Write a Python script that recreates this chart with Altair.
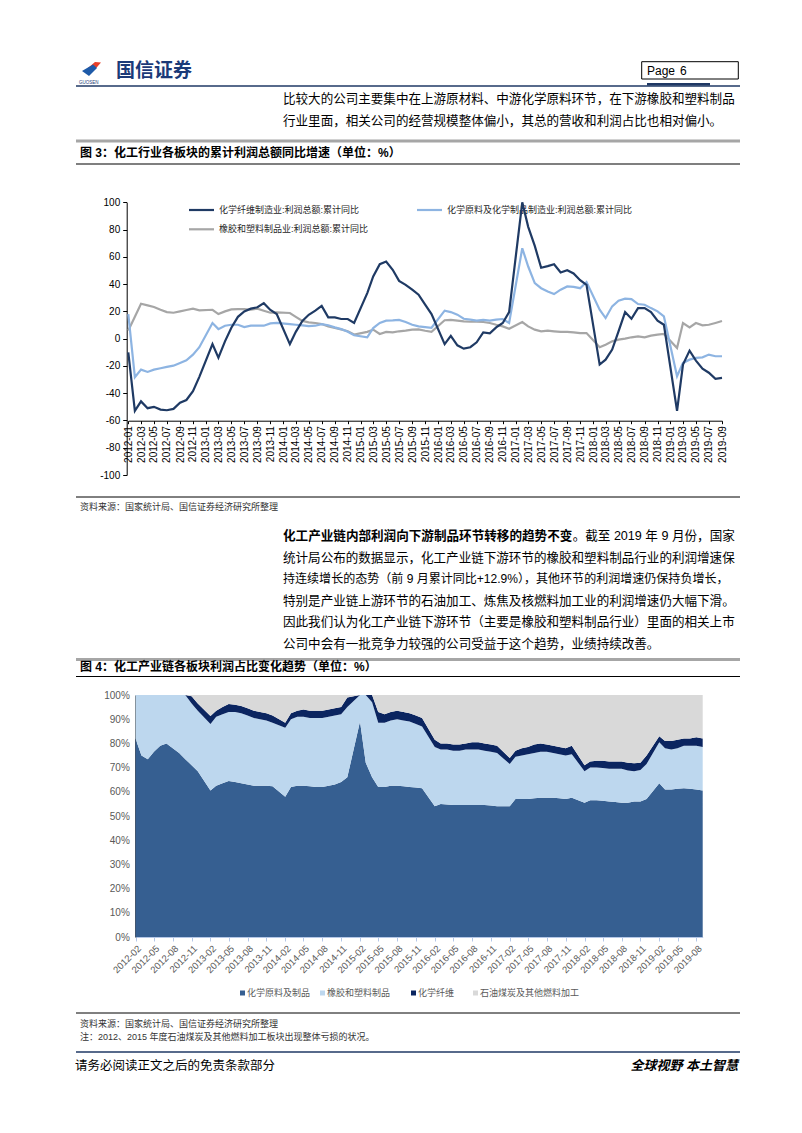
import altair as alt
import pandas as pd

W, H = 786, 1110


def px(v):
    return v - 8


FONT = "Liberation Sans, Noto Sans CJK SC"
BLANK = alt.Data(values=[{}])

# ---------------- Figure 3 data (cumulative YoY %, monthly 2012-01 .. 2019-09; January not published) -------------
months3 = [f"{y}/{m:02d}/01" for y in range(2012, 2020) for m in range(1, 13)][:93]
names3 = ["化学纤维制造业:利润总额:累计同比",
          "化学原料及化学制品制造业:利润总额:累计同比",
          "橡胶和塑料制品业:利润总额:累计同比"]
colors3 = ["#1F3A64", "#8DB4E2", "#A6A6A6"]

fiber_yoy = [
    -10, -53, -46, -51, -50, -52, -52.5, -51.5, -47, -45, -38.5, -28,
    None, -4, -14, -2, 8, 16, 20, 22, 23, 26, 21, 18,
    None, -4, 5, 13, 17.5, 20.5, 24, 15.6, 15.6, 14.4, 14.4, 11.5,
    None, 33.4, 45.6, 54.6, 56.6, 50.5, 42.4, 39.5, 35.9, 32.2, 25, 18,
    None, -4, 2, -4.9, -7.3, -6.3, -2.7, 4.6, 3.9, 8.3, 11.5, 19.5,
    None, 118, 82, 68, 52, 53.2, 54.6, 48.5, 50.2, 47.8, 42.9, 39.5,
    None, -19, -15.4, -8, 5.4, 19.5, 14.6, 22.4, 22.4, 19.5, 13.2, 10.2,
    None, -53, -19, -8.8, -16.1, -22, -25, -29.5, -28.8,
]
chem_yoy = [
    18, -28.3, -22.7, -24.4, -22.7, -21.7, -20.7, -19.8, -17.8, -15.9, -11.7, -6.3,
    None, 11.5, 7, 9.5, 10.2, 10.2, 8.5, 9.5, 9.5, 9.5, 11.2, 11.5,
    None, 10.6, 10.2, 9.8, 9.2, 9.5, 10.7, 9.8, 8.3, 7, 5, 2.5,
    None, 1, 7.8, 11.5, 13.2, 13.4, 13.7, 12.2, 10.2, 9, 8.5, 8,
    None, 20.5, 19.5, 17.6, 14.6, 13.9, 13.2, 13.7, 13.2, 13.9, 14.4, 11.5,
    None, 66.3, 52.9, 40.7, 37, 34.6, 32.7, 35.9, 38.3, 38, 37, 41.5,
    None, 21.2, 15.1, 23.7, 27.8, 29.3, 29, 25.4, 24.9, 22.4, 20, 16.3,
    None, -27.6, -17.8, -15.4, -14.1, -13.7, -11.7, -12.9, -12.9,
]
rubber_yoy = [
    6, 16, 25.6, 24.4, 23.2, 21.2, 19.5, 19, 20, 21, 22, 20.7,
    None, 21.2, 18, 20, 21.5, 21.7, 21.7, 21.2, 22, 20.5, 19, 19.3,
    None, 18.8, 16, 13, 12, 11.5, 10.7, 9, 7.8, 6.8, 5.4, 3,
    None, 5, 6.6, 3.4, 4.9, 4.6, 5.4, 5.9, 6.6, 6.8, 5.8, 5,
    None, 13.5, 13.7, 13.2, 12.7, 12.4, 12.4, 12.2, 11.5, 10.2, 9, 7.3,
    None, 12.2, 9, 6.6, 5.4, 5.9, 5.4, 4.9, 4.9, 4.6, 4.1, 4.1,
    None, -6.3, -4.4, -2, -0.7, 0, 1, 1.7, 1, 2.2, 2.9, 3.4,
    None, -6.8, 11.5, 8.3, 11.5, 9.8, 10.2, 11.5, 12.9,
]
ticks3 = [alt.DateTime(year=2012 + i // 12, month=i % 12 + 1, date=1) for i in range(0, 93, 2)]

# ---------------- Figure 4 data (profit share %, 2012-02 .. 2019-09, no January) -------------
months4 = [f"{y}/{m:02d}/01" for y in range(2012, 2020) for m in range(2, 13) if (y, m) <= (2019, 9)]
names4 = ["化学原料及制品", "橡胶和塑料制品", "化学纤维", "石油煤炭及其他燃料加工"]
colors4 = ["#365F91", "#BDD7EE", "#0B2560", "#D9D9D9"]

chem_share = [
    82, 75, 73.5, 76.5, 79, 80, 78, 76, 73.5, 71, 68.5,
    60.5, 62.5, 63.5, 64.5, 64, 63.5, 63, 62.5, 62.5, 62.5, 62.3,
    58, 62, 62.5, 62.5, 62.3, 62, 62, 62.5, 63, 64, 66,
    89, 72, 66, 62, 62, 62.5, 62.5, 62.3, 62, 61.8, 61.5,
    54, 55, 54.8, 54.5, 54.5, 54.5, 54.5, 54.5, 54.5, 54.3, 54,
    54, 57, 57, 57, 57.3, 57.5, 57.5, 57.5, 57.3, 57, 57.5,
    55.5, 56.5, 56.5, 56.3, 56, 55.8, 55.5, 55.5, 56, 56, 57,
    63.5, 61, 61, 61.3, 61.5, 61.3, 61, 60.5,
]
rubber_share = [
    26, 33, 34.5, 31.5, 28, 26, 27, 27, 27.5, 25.5, 25,
    27.5, 28.5, 28.5, 28.5, 29, 29, 28.5, 28, 27.5, 27, 26.2,
    28.5, 28, 28.5, 28.5, 28.2, 28.5, 28.5, 28.5, 28.5, 28, 29,
    23, 31, 31, 26.5, 26.5, 27, 27.5, 27.2, 27, 26.2, 25.5,
    24.5, 22.5, 22.7, 22.5, 22.5, 23, 23, 23, 22.5, 22.2, 22,
    17.5, 17.5, 18, 18.5, 18.7, 19, 19, 18.5, 18.2, 18, 18,
    13, 13.5, 13.5, 13.5, 13.5, 13.7, 14, 13.3, 12.5, 13, 14.5,
    17, 17, 16.5, 16.7, 17.5, 17.7, 18, 18,
]
fiber_share = [
    3.5, 3.5, 3.5, 3.5, 3.5, 3.5, 3.5, 3.5, 3.5, 3, 3,
    3.3, 2.5, 3, 3.3, 3, 3, 3, 3, 3, 3, 3,
    2, 2.5, 2.5, 3, 3, 3, 3, 3, 3, 3, 4,
    4, 4, 3.5, 4.5, 3.5, 3.5, 3.5, 3.5, 3.5, 3.5, 3.5,
    3, 2.5, 2.5, 2.5, 2.5, 2.5, 3, 3, 3, 3, 3,
    2.5, 2.5, 3, 3, 3.5, 3.5, 3, 3, 3, 3, 3.5,
    2.5, 2.5, 2.8, 3, 3, 3, 3, 3.2, 3.3, 3, 3.5,
    2.5, 3, 3.5, 3.5, 3, 3, 3.5, 3.5,
]
ticks4 = [alt.DateTime(year=2012 + i // 12, month=i % 12 + 1, date=1) for i in range(1, 92, 3)]

# ---------------- text ----------------
block1 = ["比较大的公司主要集中在上游原材料、中游化学原料环节，在下游橡胶和塑料制品",
          "行业里面，相关公司的经营规模整体偏小，其总的营收和利润占比也相对偏小。"]
para_bold = "化工产业链内部利润向下游制品环节转移的趋势不变"
para = ["。截至 2019 年 9 月份，国家",
        "统计局公布的数据显示，化工产业链下游环节的橡胶和塑料制品行业的利润增速保",
        "持连续增长的态势（前 9 月累计同比+12.9%），其他环节的利润增速仍保持负增长，",
        "特别是产业链上游环节的石油加工、炼焦及核燃料加工业的利润增速仍大幅下滑。",
        "因此我们认为化工产业链下游环节（主要是橡胶和塑料制品行业）里面的相关上市",
        "公司中会有一批竞争力较强的公司受益于这个趋势，业绩持续改善。"]
title3 = "图 3：化工行业各板块的累计利润总额同比增速（单位：%）"
title4 = "图 4：化工产业链各板块利润占比变化趋势（单位：%）"
source = "资料来源：国家统计局、国信证券经济研究所整理"
note4 = "注：2012、2015 年度石油煤炭及其他燃料加工板块出现整体亏损的状况。"


def em(s):
    w = 0.0
    for ch in s:
        if ord(ch) > 0x2000:
            w += 1.0
        elif ch == " " or ch == ".":
            w += 0.278
        elif ch == "%":
            w += 0.889
        elif ch == "+":
            w += 0.584
        else:
            w += 0.556
    return w


def T(s, x, y, size, color="#000000", weight="normal", align="left", style="normal", font=FONT):
    return alt.Chart(BLANK).mark_text(
        text=s, align=align, baseline="middle", font=font, fontSize=size,
        fontWeight=weight, fontStyle=style, color=color,
    ).encode(x=alt.value(px(x)), y=alt.value(px(y)))


def HL(x1, x2, y, color, width):
    return alt.Chart(BLANK).mark_rule(color=color, strokeWidth=width).encode(
        x=alt.value(px(x1)), x2=alt.value(px(x2)), y=alt.value(px(y)))


def BOX(x1, y1, x2, y2, fill, stroke=None):
    kw = dict(fill=fill)
    if stroke:
        kw.update(stroke=stroke, strokeWidth=1)
    return alt.Chart(BLANK).mark_rect(**kw).encode(
        x=alt.value(px(x1)), x2=alt.value(px(x2)), y=alt.value(px(y1)), y2=alt.value(px(y2)))


def SHAPE(path, x, y, size, color):
    return alt.Chart(BLANK).mark_point(shape=path, filled=True, size=size, color=color, opacity=1,
                                       strokeWidth=0).encode(x=alt.value(px(x)), y=alt.value(px(y)))


NAVY = "#1F3864"
decos = []
# header
decos.append(SHAPE("M-0.93,0.29L0.07,-0.57L0.93,-0.5L0,0.57Z", 94.5, 66, 196, "#E8402A"))
decos.append(SHAPE("M-0.94,0.09L0.44,-0.72L0.94,-0.28L-0.06,0.72Z", 89.5, 70.3, 256, "#1E5AA8"))
decos.append(T("国信证券", 116, 71, 19, color="#1B3A78", weight="bold"))
decos.append(T("GUOSEN", 79, 83.3, 4.5, color="#1B3A78"))
decos.append(BOX(641.7, 61.7, 738.3, 79, "#FFFFFF", "#000000"))
decos.append(T("Page", 647, 70.5, 12))
decos.append(T("6", 680, 70.5, 12))
decos.append(HL(76, 740, 86, NAVY, 1.3))
decos.append(HL(647, 710, 84.2, NAVY, 2.6))

X0, XW = 283, 452
FS = 12.56
decos.append(T(block1[0], X0, 99, XW / em(block1[0])))
decos.append(T(block1[1], X0, 121, FS))

decos.append(HL(76, 740, 141, "#A6A6A6", 3))
decos.append(T(title3, 80, 152.5, 12, weight="bold"))
decos.append(HL(76, 740, 164, "#000000", 1.2))

# legend of figure 3
leg3 = [(names3[0], colors3[0], 189, 210), (names3[1], colors3[1], 417, 210), (names3[2], colors3[2], 189, 229.3)]
for nm, col, lx, ly in leg3:
    decos.append(HL(lx, lx + 25, ly, col, 2.2))
    decos.append(T(nm, lx + 30, ly, 9, color="#262626"))

decos.append(HL(76, 740, 497, "#000000", 1))
decos.append(T(source, 80, 507, 9, color="#333333"))

# paragraph
py = [536, 557.5, 579, 600.5, 622, 643.5]
fs0 = XW / (em(para_bold) + em(para[0]))
decos.append(T(para_bold, X0, py[0], fs0, weight="bold"))
decos.append(T(para[0], X0 + em(para_bold) * fs0, py[0], fs0))
for i in range(1, 6):
    s = para[i]
    fs = XW / em(s) if i < 5 else FS
    decos.append(T(s, X0, py[i], fs))

decos.append(HL(76, 740, 659.5, "#A6A6A6", 3))
decos.append(T(title4, 80, 666.5, 12, weight="bold"))
decos.append(HL(76, 740, 676.5, "#000000", 1.2))

# legend of figure 4
for nm, col, lx in zip(names4, colors4, [240, 320, 411, 473]):
    decos.append(BOX(lx, 990.5, lx + 5, 995.5, col))
    decos.append(T(nm, lx + 7, 993, 9, color="#595959"))

decos.append(HL(76, 740, 1013, "#000000", 1))
decos.append(T(source, 80, 1024, 9, color="#333333"))
decos.append(T(note4, 80, 1036.5, 9, color="#333333"))
decos.append(HL(76, 740, 1052, NAVY, 1.5))
decos.append(T("请务必阅读正文之后的免责条款部分", 75, 1066, 12.5))
decos.append(T("全球视野   本土智慧", 738, 1066, 13, weight="bold", style="italic", align="right"))

# ---------------- Figure 3 chart ----------------
x3 = alt.X("date:T", title="",
           scale=alt.Scale(domain=[alt.DateTime(year=2012, month=1, date=1), alt.DateTime(year=2019, month=9, date=1)],
                           range=[px(128.3), px(722)], nice=False),
           axis=alt.Axis(orient="bottom", offset=px(420.7) - H, values=ticks3, format="%Y-%m", labelAngle=270,
                         labelFont="Liberation Sans", labelFontSize=10, labelColor="#000000",
                         domainColor="#000000", tickColor="#000000", tickSize=3, labelPadding=2,
                         labelOverlap=False, labelFlush=False, grid=False))
y3 = alt.Y("value:Q", title="",
           scale=alt.Scale(domain=[-100, 100], range=[px(475), px(202.3)], clamp=True, nice=False, zero=False),
           axis=alt.Axis(orient="left", offset=-px(126.7), values=list(range(-100, 101, 20)),
                         labelExpr="'' + datum.value", labelFont="Liberation Sans", labelFontSize=10,
                         labelColor="#000000", domainColor="#000000", tickColor="#000000", tickSize=4,
                         labelPadding=3, grid=False))

series3 = [(rubber_yoy, colors3[2]), (chem_yoy, colors3[1]), (fiber_yoy, colors3[0])]
lines = []
for vals, col in series3:
    df = pd.DataFrame({"date": months3, "value": vals}).dropna()
    lines.append(alt.Chart(df).mark_line(color=col, strokeWidth=2.2).encode(x=x3, y=y3))
chart3 = alt.layer(*lines)

# ---------------- Figure 4 chart ----------------
rows = []
for i, d in enumerate(months4):
    c, r, f = chem_share[i], rubber_share[i], fiber_share[i]
    b = [0, c, c + r, c + r + f, 100]
    for k in range(4):
        rows.append({"date": d, "series": names4[k], "lo": b[k], "hi": b[k + 1]})
df4 = pd.DataFrame(rows)

x4 = alt.X("date:T", title="",
           scale=alt.Scale(domain=[alt.DateTime(year=2012, month=2, date=1), alt.DateTime(year=2019, month=9, date=1)],
                           range=[px(135.5), px(702.7)], nice=False),
           axis=alt.Axis(orient="bottom", offset=px(937) - H, values=ticks4, format="%Y-%m", labelAngle=315,
                         labelFont="Liberation Sans", labelFontSize=9.5, labelColor="#595959",
                         domainColor="#B4C7E7", tickColor="#B4C7E7", tickSize=4, labelPadding=2,
                         labelOverlap=False, labelFlush=False, grid=False))
y4 = alt.Y("hi:Q", title="",
           scale=alt.Scale(domain=[0, 100], range=[px(937), px(695)], clamp=True, nice=False, zero=False),
           axis=alt.Axis(orient="left", offset=-px(135.3), values=list(range(0, 101, 10)),
                         labelExpr="datum.value + '%'", labelFont="Liberation Sans", labelFontSize=10,
                         labelColor="#595959", domainColor="#000000", ticks=False, labelPadding=6, grid=False))
chart4 = alt.Chart(df4).mark_area(opacity=1).encode(
    x=x4, y=y4, y2="lo:Q",
    color=alt.Color("series:N", scale=alt.Scale(domain=names4, range=colors4), legend=None),
)

page = (
    alt.layer(*decos, chart3, chart4)
    .resolve_scale(x="independent", y="independent", color="independent")
    .properties(width=W, height=H, padding=0)
    .configure_view(strokeWidth=0)
)
page.save("out.html", embed_options={"renderer": "svg", "actions": False})
